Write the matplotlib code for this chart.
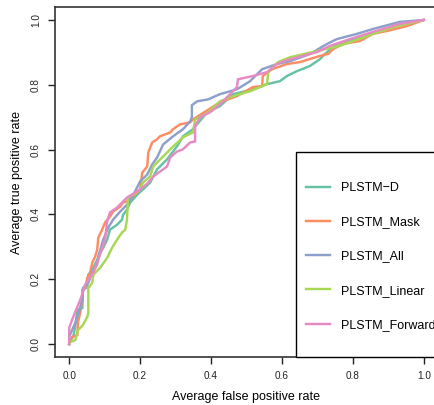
import matplotlib
matplotlib.use("Agg")
import matplotlib.pyplot as plt
from matplotlib.patches import Rectangle

plt.rcParams['font.family'] = ['Liberation Sans', 'DejaVu Sans']

labels = ["PLSTM\u2212D", "PLSTM_Mask", "PLSTM_All", "PLSTM_Linear", "PLSTM_Forward"]
colors = ["#66C2A5", "#FC8D62", "#8DA0CB", "#A6D854", "#E78AC3"]

d_fpr = [0, 0.003, 0.011, 0.017, 0.023, 0.037, 0.039, 0.051, 0.054, 0.065, 0.079, 0.087, 0.093, 0.107, 0.115,
         0.135, 0.149, 0.152, 0.163, 0.172, 0.192, 0.208, 0.228, 0.248, 0.276, 0.304, 0.321, 0.349, 0.389, 0.425,
         0.462, 0.518, 0.558, 0.594, 0.614, 0.642, 0.679, 0.707, 0.721, 0.755, 0.820, 0.876, 0.932, 1.0]
d_tpr = [0, 0.012, 0.022, 0.053, 0.105, 0.111, 0.167, 0.176, 0.214, 0.229, 0.260, 0.282, 0.291, 0.322, 0.353,
         0.368, 0.384, 0.399, 0.415, 0.437, 0.461, 0.477, 0.498, 0.539, 0.570, 0.610, 0.641, 0.663, 0.715, 0.734,
         0.771, 0.786, 0.802, 0.811, 0.827, 0.842, 0.858, 0.879, 0.895, 0.926, 0.947, 0.966, 0.985, 1.0]

mask_fpr = [0, 0.008, 0.023, 0.025, 0.031, 0.037, 0.037, 0.045, 0.051, 0.059, 0.065, 0.073, 0.079, 0.082, 0.093,
            0.101, 0.115, 0.124, 0.144, 0.152, 0.163, 0.180, 0.200, 0.206, 0.220, 0.223, 0.234, 0.248, 0.256, 0.285,
            0.293, 0.313, 0.341, 0.349, 0.389, 0.425, 0.473, 0.518, 0.544, 0.546, 0.572, 0.614, 0.651, 0.707, 0.730,
            0.744, 0.772, 0.820, 0.856, 0.896, 0.952, 1.0]
mask_tpr = [0, 0.022, 0.028, 0.068, 0.096, 0.136, 0.167, 0.173, 0.204, 0.220, 0.251, 0.269, 0.291, 0.328, 0.353,
            0.375, 0.393, 0.409, 0.424, 0.437, 0.440, 0.455, 0.477, 0.529, 0.548, 0.591, 0.622, 0.632, 0.641, 0.653,
            0.663, 0.678, 0.684, 0.693, 0.721, 0.746, 0.765, 0.793, 0.796, 0.827, 0.848, 0.864, 0.870, 0.889, 0.895,
            0.910, 0.926, 0.935, 0.957, 0.966, 0.981, 1.0]

all_fpr = [0, 0, 0.008, 0.017, 0.025, 0.037, 0.039, 0.054, 0.065, 0.079, 0.082, 0.096, 0.110, 0.124, 0.144,
           0.163, 0.180, 0.200, 0.220, 0.234, 0.248, 0.265, 0.293, 0.321, 0.341, 0.346, 0.346, 0.361, 0.392, 0.425,
           0.473, 0.510, 0.530, 0.544, 0.586, 0.623, 0.679, 0.727, 0.755, 0.811, 0.856, 0.932, 1.0]
all_tpr = [0, 0.022, 0.043, 0.065, 0.090, 0.136, 0.173, 0.189, 0.220, 0.245, 0.269, 0.322, 0.359, 0.384, 0.409,
           0.430, 0.458, 0.502, 0.523, 0.554, 0.576, 0.616, 0.641, 0.663, 0.687, 0.700, 0.737, 0.749, 0.755, 0.771,
           0.786, 0.811, 0.833, 0.848, 0.864, 0.873, 0.895, 0.926, 0.941, 0.957, 0.972, 0.994, 1.0]

lin_fpr = [0, 0.003, 0.017, 0.025, 0.039, 0.051, 0.054, 0.054, 0.065, 0.068, 0.087, 0.107, 0.121, 0.135, 0.149,
           0.158, 0.163, 0.166, 0.180, 0.200, 0.208, 0.228, 0.237, 0.285, 0.321, 0.349, 0.355, 0.369, 0.392, 0.425,
           0.462, 0.510, 0.558, 0.561, 0.589, 0.623, 0.699, 0.763, 0.839, 0.913, 1.0]
lin_tpr = [0, 0.006, 0.012, 0.043, 0.059, 0.084, 0.096, 0.173, 0.189, 0.214, 0.235, 0.266, 0.297, 0.322, 0.344,
           0.353, 0.384, 0.452, 0.461, 0.477, 0.498, 0.517, 0.548, 0.601, 0.638, 0.653, 0.693, 0.700, 0.715, 0.749,
           0.765, 0.780, 0.802, 0.839, 0.870, 0.885, 0.904, 0.920, 0.950, 0.978, 1.0]

fwd_fpr = [0, 0, 0.008, 0.017, 0.031, 0.039, 0.045, 0.054, 0.068, 0.079, 0.087, 0.101, 0.107, 0.115, 0.135,
           0.163, 0.200, 0.220, 0.237, 0.276, 0.285, 0.304, 0.321, 0.341, 0.355, 0.355, 0.369, 0.397, 0.425, 0.454,
           0.473, 0.476, 0.518, 0.558, 0.586, 0.614, 0.699, 0.735, 0.792, 0.856, 0.932, 1.0]
fwd_tpr = [0, 0.050, 0.074, 0.099, 0.136, 0.161, 0.183, 0.198, 0.220, 0.251, 0.276, 0.322, 0.378, 0.406, 0.421,
           0.452, 0.477, 0.495, 0.517, 0.548, 0.576, 0.594, 0.601, 0.622, 0.625, 0.672, 0.700, 0.715, 0.740, 0.771,
           0.793, 0.817, 0.827, 0.839, 0.864, 0.876, 0.901, 0.920, 0.941, 0.963, 0.988, 1.0]

xticks = [0.0, 0.2, 0.4, 0.6, 0.8, 1.0]
yticks = [0.0, 0.2, 0.4, 0.6, 0.8, 1.0]
tick_labels = ["0.0", "0.2", "0.4", "0.6", "0.8", "1.0"]

series = [(d_fpr, d_tpr), (mask_fpr, mask_tpr), (all_fpr, all_tpr), (lin_fpr, lin_tpr), (fwd_fpr, fwd_tpr)]

fig = plt.figure(figsize=(4.35, 4.05), dpi=100)
ax = fig.add_axes([55/435, 48/405, 383/435, 350/405])

handles = []
for (fx, ty), c, lab in zip(series, colors, labels):
    h, = ax.plot(fx, ty, color=c, lw=1.75, label=lab, solid_joinstyle='miter')
    handles.append(h)

ax.set_xlim(-0.04, 1.04)
ax.set_ylim(-0.04, 1.04)
ax.set_xticks(xticks)
ax.set_xticklabels(tick_labels)
ax.set_yticks(yticks)
ax.set_yticklabels(tick_labels, rotation=90, va='center')
ax.tick_params(axis='both', direction='out', length=5, width=1, colors='#222222', labelsize=7.2, pad=5)
for s in ax.spines.values():
    s.set_color('#333333')
    s.set_linewidth(1.2)

ax.set_xlabel("Average false positive rate", fontsize=9, labelpad=7)
ax.set_ylabel("Average true positive rate", fontsize=9, labelpad=6)

# legend frame
ax.add_patch(Rectangle((241/383, 0), 0.5, 205/350, transform=ax.transAxes,
                       facecolor='white', edgecolor='black', lw=1.0, zorder=4, clip_on=False))
leg = ax.legend(handles=handles, loc='upper left', bbox_to_anchor=(251/383, 175/350),
                frameon=False, fontsize=9, borderpad=0, borderaxespad=0,
                handlelength=1.95, handletextpad=0.85, labelspacing=1.78)
leg.set_zorder(5)

fig.savefig("out.png", dpi=100)
